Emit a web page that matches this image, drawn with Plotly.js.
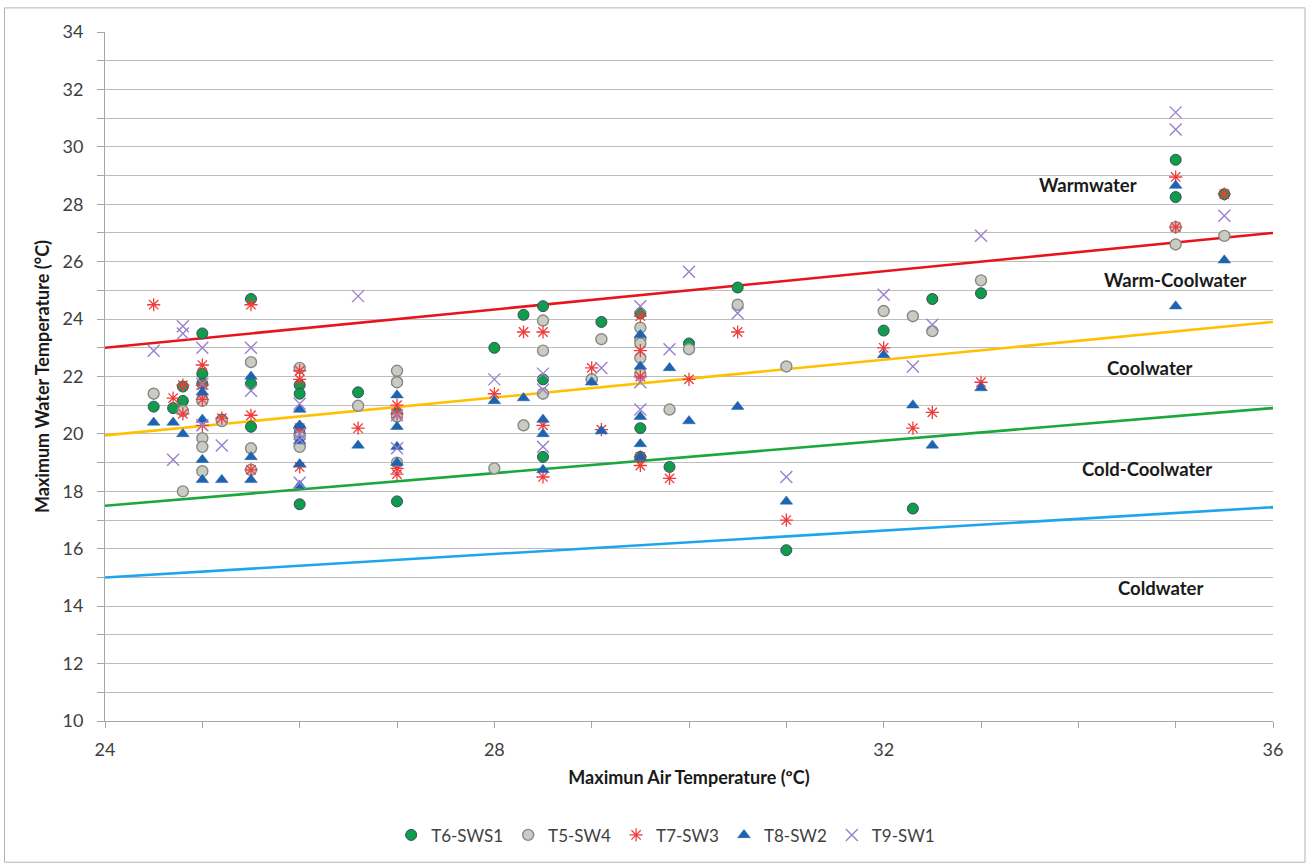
<!DOCTYPE html>
<html>
<head>
<meta charset="utf-8">
<script src="https://cdn.plot.ly/plotly-3.0.1.min.js"></script>
<style>
  html, body { margin: 0; padding: 0; background: #ffffff; }
  #chart { width: 1310px; height: 867px; }
</style>
</head>
<body>
<div id="chart"></div>
<script>
// ---- Series: T6-SWS1 ----
const t6X = [24.5, 24.7, 24.8, 24.8, 25, 25, 25, 25, 25.2, 25.5, 25.5, 25.5, 26, 26, 26, 26, 26, 26.6, 27, 27, 27, 28, 28.3, 28.5, 28.5, 28.5, 29.0, 29.1, 29.5, 29.5, 29.5, 29.8, 30.0, 30.5, 31.0, 32.0, 32.3, 32.5, 33.0, 35, 35, 35.5];
const t6Y = [20.95, 20.9, 21.65, 21.15, 23.5, 22.1, 21.75, 21.2, 20.5, 24.7, 21.75, 20.25, 21.7, 21.4, 20.2, 20.0, 17.55, 21.45, 21.8, 20.7, 17.65, 23.0, 24.15, 24.45, 21.9, 19.2, 21.9, 23.9, 24.2, 20.2, 19.2, 18.85, 23.15, 25.1, 15.95, 23.6, 17.4, 24.7, 24.9, 29.55, 28.25, 28.35];

// ---- Series: T5-SW4 ----
const t5X = [24.5, 24.8, 24.8, 25, 25, 25, 25, 25.2, 25.5, 25.5, 25.5, 26, 26, 26, 26.6, 27, 27, 27, 27, 28, 28.3, 28.5, 28.5, 28.5, 29.0, 29.1, 29.5, 29.5, 29.5, 29.5, 29.5, 29.8, 30.0, 30.5, 31.0, 32.0, 32.3, 32.5, 33.0, 35, 35, 35.5];
const t5Y = [21.4, 20.8, 18.0, 19.85, 19.55, 18.7, 21.15, 20.45, 22.5, 19.5, 18.75, 22.3, 19.55, 19.9, 20.98, 22.2, 21.8, 20.6, 19.0, 18.8, 20.3, 23.95, 22.9, 21.4, 21.9, 23.3, 23.7, 23.3, 23.15, 22.65, 22.1, 20.85, 22.95, 24.5, 22.35, 24.28, 24.1, 23.58, 25.35, 27.2, 26.6, 26.9];

// ---- Series: T7-SW3 ----
const t7X = [24.5, 24.7, 24.8, 24.8, 25, 25, 25, 25, 25.2, 25.5, 25.5, 25.5, 26, 26, 26, 26, 26.6, 27, 27, 27, 27, 28, 28.3, 28.5, 28.5, 28.5, 29.0, 29.1, 29.5, 29.5, 29.5, 29.5, 29.5, 29.8, 30.0, 30.5, 31.0, 32.0, 32.3, 32.5, 33.0, 35, 35, 35.5];
const t7Y = [24.5, 21.25, 21.7, 20.7, 22.4, 21.7, 21.2, 20.3, 20.55, 24.5, 20.65, 18.75, 22.2, 21.9, 20.2, 18.85, 20.2, 21.0, 20.7, 18.8, 18.6, 21.4, 23.55, 23.55, 20.3, 18.5, 22.3, 20.15, 24.1, 22.9, 22.0, 19.2, 18.9, 18.45, 21.9, 23.55, 17.0, 23.0, 20.2, 20.75, 21.8, 28.95, 27.2, 28.35];

// ---- Series: T8-SW2 ----
const t8X = [24.5, 24.7, 24.8, 25, 25, 25, 25, 25.2, 25.5, 25.5, 25.5, 26, 26, 26, 26, 26, 26.6, 27, 27, 27, 27, 28, 28.3, 28.5, 28.5, 28.5, 29.0, 29.1, 29.5, 29.5, 29.5, 29.5, 29.5, 29.8, 30.0, 30.5, 31.0, 32.0, 32.3, 32.5, 33.0, 35, 35, 35.5];
const t8Y = [20.4, 20.4, 20.0, 21.45, 20.5, 19.1, 18.4, 18.4, 22.0, 19.2, 18.4, 20.85, 20.3, 19.75, 18.95, 18.2, 19.6, 21.35, 20.25, 19.55, 19.0, 21.15, 21.25, 20.5, 20.0, 18.75, 21.8, 20.1, 23.45, 22.35, 20.6, 19.65, 19.2, 22.3, 20.45, 20.95, 17.65, 22.75, 21.0, 19.6, 21.6, 28.65, 24.45, 26.05];

// ---- Series: T9-SW1 ----
const t9X = [24.5, 24.7, 24.8, 24.8, 25, 25, 25, 25.2, 25.5, 25.5, 26, 26, 26, 26, 26.6, 27, 27, 28, 28.5, 28.5, 28.5, 29.1, 29.5, 29.5, 29.5, 29.8, 30.0, 30.5, 31.0, 32.0, 32.3, 32.5, 33.0, 35, 35, 35.5];
const t9Y = [22.9, 19.1, 23.75, 23.5, 23.0, 21.75, 20.3, 19.6, 23.0, 21.5, 21.05, 19.8, 18.3, 20.0, 24.8, 20.65, 19.5, 21.9, 22.1, 21.55, 19.55, 22.3, 24.45, 21.8, 20.85, 22.95, 25.65, 24.2, 18.5, 24.85, 22.35, 23.8, 26.9, 31.2, 30.6, 27.6];

// ---- Class boundary lines ----
const boundX = [24, 36];
const warmLine = [23.0, 27.0];
const coolLine = [19.95, 23.9];
const coldCoolLine = [17.5, 20.9];
const coldLine = [15.0, 17.45];

// ---- Labels ----
const seriesNames = ['T6-SWS1', 'T5-SW4', 'T7-SW3', 'T8-SW2', 'T9-SW1'];
const zoneLabels = ['Warmwater', 'Warm-Coolwater', 'Coolwater', 'Cold-Coolwater', 'Coldwater'];
const zoneLabelX = [34.1, 35.0, 34.74, 34.71, 34.84];
const zoneLabelY = [28.66, 25.35, 22.29, 18.77, 14.62];

const FONT = 'Lato, "Open Sans", "DejaVu Sans", sans-serif';

function lineTrace(y, color) {
  return { x: boundX, y: y, type: 'scatter', mode: 'lines', showlegend: false, hoverinfo: 'skip',
           line: { color: color, width: 2.6 } };
}

const traces = [
  lineTrace(warmLine, '#e8141c'),
  lineTrace(coolLine, '#ffc000'),
  lineTrace(coldCoolLine, '#1aa83c'),
  lineTrace(coldLine, '#1ea6ec'),
  { x: t6X, y: t6Y, name: seriesNames[0], type: 'scatter', mode: 'markers',
    marker: { symbol: 'circle', size: 11, color: '#0f9d4a', line: { color: '#3d4a66', width: 1 } } },
  { x: t5X, y: t5Y, name: seriesNames[1], type: 'scatter', mode: 'markers',
    marker: { symbol: 'circle', size: 11, color: '#c9ccc3', line: { color: '#878a84', width: 1.4 } } },
  { x: t7X, y: t7Y, name: seriesNames[2], type: 'scatter', mode: 'markers',
    marker: { symbol: 'asterisk-open', size: 11, color: '#f03c3c', line: { color: '#f03c3c', width: 1.3 } } },
  { x: t8X, y: t8Y, name: seriesNames[3], type: 'scatter', mode: 'markers',
    marker: { symbol: 'triangle-up', size: 11, color: '#1f63b0', line: { color: '#1f63b0', width: 0.5 } } },
  { x: t9X, y: t9Y, name: seriesNames[4], type: 'scatter', mode: 'markers',
    marker: { symbol: 'x-thin-open', size: 12, color: '#9b80cc', line: { color: '#9b80cc', width: 1.4 } } }
];

const annotations = zoneLabels.map((t, i) => ({
  x: zoneLabelX[i], y: zoneLabelY[i], xref: 'x', yref: 'y', text: '<b>' + t + '</b>',
  showarrow: false, xanchor: 'center', yanchor: 'middle',
  font: { family: FONT, size: 18.5, color: '#1a1a1a' }
}));

const layout = {
  width: 1310, height: 867,
  margin: { l: 105, r: 37, t: 32, b: 146 },
  paper_bgcolor: '#ffffff', plot_bgcolor: '#ffffff',
  font: { family: FONT, color: '#404040' },
  showlegend: true,
  legend: { orientation: 'h', x: 0.48, xanchor: 'center', y: -0.166, yanchor: 'middle',
            font: { family: FONT, size: 17, color: '#404040' }, itemwidth: 30, traceorder: 'normal' },
  xaxis: {
    range: [24, 36], tick0: 24, dtick: 4, ticks: 'outside', ticklen: 6, tickcolor: '#a6a6a6',
    showline: true, linecolor: '#a6a6a6', linewidth: 1, showgrid: false, zeroline: false,
    minor: { dtick: 1, ticks: 'outside', ticklen: 6, tickcolor: '#a6a6a6', showgrid: false },
    tickfont: { family: FONT, size: 18, color: '#404040' }, ticklabelstandoff: 6,
    title: { text: '<b>Maximun Air Temperature (ºC)</b>', font: { family: FONT, size: 18, color: '#1a1a1a' }, standoff: 12 }
  },
  yaxis: {
    range: [10, 34], tick0: 10, dtick: 2, ticks: 'outside', ticklen: 7, tickcolor: '#a6a6a6',
    showline: true, linecolor: '#a6a6a6', linewidth: 1, showgrid: true, gridcolor: '#bdbdbd', gridwidth: 1.3,
    zeroline: false,
    minor: { dtick: 1, ticks: 'outside', ticklen: 7, tickcolor: '#a6a6a6', showgrid: true, gridcolor: '#bdbdbd', gridwidth: 1.3 },
    tickfont: { family: FONT, size: 18, color: '#404040' }, ticklabelstandoff: 10,
    title: { text: '<b>Maximum Water Temperature (°C)</b>', font: { family: FONT, size: 18, color: '#1a1a1a' }, standoff: 8 }
  },
  annotations: annotations,
  shapes: [
    { type: 'rect', xref: 'paper', yref: 'paper', x0: -0.086, x1: 1.0274, y0: -0.205, y1: 1.035,
      line: { color: '#b3b3b3', width: 1 }, fillcolor: 'rgba(0,0,0,0)', layer: 'below' }
  ]
};

Plotly.newPlot('chart', traces, layout, { displayModeBar: false, responsive: false });
</script>
</body>
</html>
